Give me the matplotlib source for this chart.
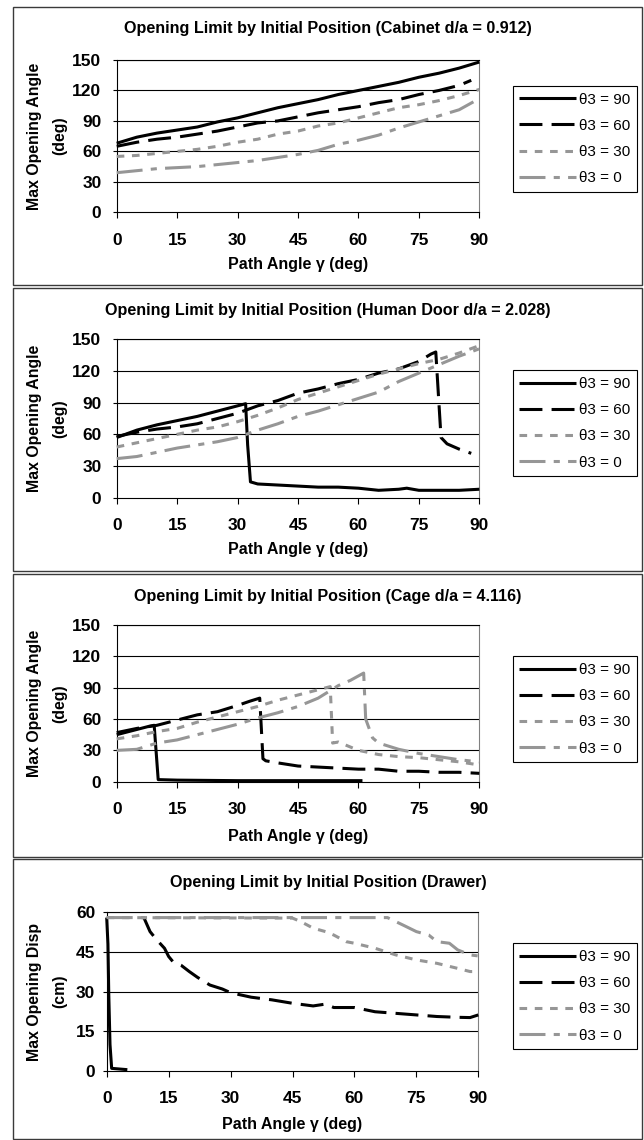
import matplotlib
matplotlib.use('Agg')
import matplotlib.pyplot as plt
from matplotlib.patches import Rectangle

plt.rcParams['font.family'] = ['Liberation Sans', 'DejaVu Sans']

# ---------------- data ----------------
labels = ['θ3 = 90', 'θ3 = 60', 'θ3 = 30', 'θ3 = 0']
x_ticks = [0, 15, 30, 45, 60, 75, 90]
angle_ticks = [0, 30, 60, 90, 120, 150]
disp_ticks = [0, 15, 30, 45, 60]

titles = ['Opening Limit by Initial Position (Cabinet d/a = 0.912)',
          'Opening Limit by Initial Position (Human Door d/a = 2.028)',
          'Opening Limit by Initial Position (Cage d/a = 4.116)',
          'Opening Limit by Initial Position (Drawer)']
ylabels = [('Max Opening Angle', '(deg)')] * 3 + [('Max Opening Disp', '(cm)')]
xlabel = 'Path Angle γ (deg)'

# Panel 1 : Cabinet
cab_x = [0, 5, 10, 15, 20, 25, 30, 35, 40, 45, 50, 55, 60, 65, 70, 75, 80, 85, 90]
cab_t90 = [68, 74, 78, 81, 84, 89, 93, 98, 103, 107, 111, 116, 120, 124, 128, 133, 137, 142, 148]
cab_x60 = [0, 5, 10, 15, 20, 25, 30, 35, 40, 45, 50, 55, 60, 65, 70, 75, 80, 85, 88]
cab_t60 = [65, 69, 72, 74, 77, 80, 84, 88, 90, 94, 98, 101, 104, 108, 111, 116, 120, 125, 130]
cab_t30 = [55, 56, 58, 60, 62, 65, 69, 72, 77, 80, 85, 88, 93, 98, 103, 106, 110, 115, 121]
cab_t0 = [39, 41, 43, 44, 45, 47, 49, 51, 54, 57, 61, 67, 71, 76, 83, 89, 95, 101, 112]

# Panel 2 : Human door
door_x90 = [0, 5, 10, 15, 20, 25, 30, 32, 32.5, 33.2, 35, 40, 45, 50, 55, 60, 65, 70, 72, 75, 80, 85, 90]
door_t90 = [57, 64, 69, 73, 77, 82, 87, 89, 50, 15, 13, 12, 11, 10, 10, 9, 7, 8, 9, 7, 7, 7, 8]
door_x60 = [0, 5, 10, 15, 20, 25, 30, 35, 40, 45, 50, 55, 60, 65, 70, 75, 78, 79.2, 80.5, 82, 85, 88]
door_t60 = [58, 62, 65, 67, 70, 75, 80, 87, 92, 99, 103, 108, 112, 118, 122, 129, 136, 138, 57, 51, 46, 42]
door_x = [0, 5, 10, 15, 20, 25, 30, 35, 40, 45, 50, 55, 60, 65, 70, 75, 80, 85, 90]
door_t30 = [48, 52, 56, 60, 64, 67, 72, 78, 85, 93, 99, 105, 111, 117, 122, 127, 131, 137, 144]
door_t0 = [37, 39, 43, 47, 50, 53, 57, 64, 70, 77, 82, 88, 94, 100, 110, 118, 126, 134, 141]

# Panel 3 : Cage
cage_x90 = [0, 3, 5, 8, 9.3, 10.3, 15, 30, 45, 61]
cage_t90 = [45, 48, 50, 53, 54, 2, 1.5, 1, 1, 1]
cage_x60 = [0, 5, 10, 12, 15, 20, 25, 30, 33, 35.5, 36.3, 37, 40, 45, 50, 55, 60, 65, 70, 75, 80, 85, 90]
cage_t60 = [47, 51, 54, 56, 59, 64, 67, 73, 77, 80, 22, 20, 18, 15, 14, 13, 12, 12, 10, 10, 9, 9, 8]
cage_x30 = [0, 5, 10, 15, 20, 25, 30, 35, 40, 45, 50, 53, 53.6, 55, 60, 65, 70, 75, 80, 85, 90]
cage_t30 = [41, 44, 48, 51, 57, 62, 67, 72, 78, 83, 88, 91, 37, 38, 30, 26, 24, 23, 21, 19, 16]
cage_x0 = [0, 5, 10, 15, 20, 25, 30, 35, 40, 45, 50, 55, 58, 61.3, 61.8, 63.5, 65, 70, 75, 80, 85, 90]
cage_t0 = [30, 31, 37, 40, 45, 50, 55, 61, 66, 72, 80, 92, 97, 104, 60, 42, 37, 31, 27, 24, 21, 19]

# Panel 4 : Drawer
drw_x90 = [0, 0.3, 0.5, 0.8, 1.2, 5]
drw_t90 = [58, 48, 29, 10, 1, 0.5]
drw_x60 = [8.5, 9, 10.5, 12, 14, 15, 16, 18, 20, 22, 25, 28, 30, 35, 40, 45, 50, 53, 55, 60, 65, 70, 75, 80, 85, 88, 90]
drw_t60 = [58, 58, 52.7, 49.8, 46.4, 43.3, 41.4, 40, 37.6, 35.4, 32.5, 31, 29.6, 27.9, 26.9, 25.6, 24.6, 25.3,
           24, 24, 22.4, 21.8, 21.2, 20.6, 20.3, 20.2, 21.2]
drw_x30 = [0, 45, 47, 50, 53, 55, 58, 60, 65, 70, 75, 80, 85, 88, 90]
drw_t30 = [58, 57.8, 56.5, 54, 52.7, 51.4, 48.9, 48.3, 46.4, 43.9, 42, 40.7, 38.8, 37.6, 37.6]
drw_x0 = [0, 68, 70, 72, 75, 78, 80, 83, 85, 88, 90]
drw_t0 = [58, 58, 56.5, 55, 52.7, 51.4, 48.9, 48.3, 45.8, 43.9, 43.5]

series = [
    [(cab_x, cab_t90), (cab_x60, cab_t60), (cab_x, cab_t30), (cab_x, cab_t0)],
    [(door_x90, door_t90), (door_x60, door_t60), (door_x, door_t30), (door_x, door_t0)],
    [(cage_x90, cage_t90), (cage_x60, cage_t60), (cage_x30, cage_t30), (cage_x0, cage_t0)],
    [(drw_x90, drw_t90), (drw_x60, drw_t60), (drw_x30, drw_t30), (drw_x0, drw_t0)],
]
yticks_list = [angle_ticks, angle_ticks, angle_ticks, disp_ticks]

# ---------------- styles / layout ----------------
W, H = 644, 1140
GRAY = '#969696'
LW = 2.2
styles = [
    dict(color='black', linestyle='-'),
    dict(color='black', dashes=(7.5, 3)),
    dict(color=GRAY, dashes=(2.5, 2.5)),
    dict(color=GRAY, dashes=(8.5, 2.7, 2, 2.7)),
]

# pixel layout: box(top,bottom), axes(left,right,top,bottom), title y, xlabel y, legend top, ytick pad
layout = [
    dict(box=(6.7, 285), ax=(116.7, 479.3, 60, 212.3), title=29, xl=264, leg=85.7, ypad=8.0),
    dict(box=(288.3, 571), ax=(116.7, 479.3, 339.3, 497.7), title=310, xl=550, leg=370, ypad=8.0),
    dict(box=(573.5, 857), ax=(116.7, 479.3, 625, 781.7), title=597, xl=837, leg=656, ypad=8.0),
    dict(box=(859.5, 1138.5), ax=(106.7, 478.3, 912.3, 1071), title=883, xl=1125, leg=943, ypad=5.3),
]

fig = plt.figure(figsize=(W / 100, H / 100), dpi=100)


def fx(p):
    return p / W


def fy(p):
    return 1 - p / H


for i in range(4):
    L = layout[i]
    bt, bb = L['box']
    fig.add_artist(Rectangle((fx(12.7), fy(bb)), fx(642) - fx(12.7), fy(bt) - fy(bb),
                             transform=fig.transFigure, fill=False, edgecolor='#3a3a3a',
                             linewidth=1.0))
    l, r, t, b = L['ax']
    ax = fig.add_axes([fx(l), fy(b), fx(r) - fx(l), fy(t) - fy(b)])
    yt = yticks_list[i]
    ax.set_xlim(0, 90)
    ax.set_ylim(yt[0], yt[-1])
    ax.set_xticks(x_ticks)
    ax.set_yticks(yt)
    ax.set_xticklabels([str(v) for v in x_ticks], fontsize=12.5, fontweight='bold')
    ax.set_yticklabels([str(v) for v in yt], fontsize=12.5, fontweight='bold')
    ax.tick_params(axis='x', direction='out', length=4.2, width=0.8, pad=10.5)
    ax.tick_params(axis='y', direction='out', length=3.0, width=0.8, pad=L['ypad'])
    for v in yt[1:]:
        ax.axhline(v, color='black', linewidth=0.8, zorder=1)
    ax.spines['left'].set_linewidth(0.8)
    ax.spines['bottom'].set_linewidth(0.8)
    ax.spines['top'].set_linewidth(0.8)
    ax.spines['right'].set_color('#808080')
    ax.spines['right'].set_linewidth(0.8)
    handles = []
    for (xs, ys), st, lab in zip(series[i], styles, labels):
        ln, = ax.plot(xs, ys, linewidth=LW, label=lab, clip_on=False, zorder=3,
                      solid_capstyle='butt', dash_capstyle='butt', **st)
        handles.append(ln)
    ax.set_axisbelow(True)

    fig.text(fx(328), fy(L['title']), titles[i], ha='center', va='center',
             fontsize=11.6, fontweight='bold')
    fig.text(fx((l + r) / 2), fy(L['xl']), xlabel, ha='center', va='center',
             fontsize=11.5, fontweight='bold')
    yc = fy((t + b) / 2)
    fig.text(fx(35), yc, ylabels[i][0], rotation=90, ha='center', va='center',
             fontsize=11.4, fontweight='bold')
    fig.text(fx(60), yc, ylabels[i][1], rotation=90, ha='center', va='center',
             fontsize=11.4, fontweight='bold')

    leg = fig.legend(handles=handles, labels=labels, loc='upper left',
                     bbox_to_anchor=(fx(512.5), fy(L['leg'])), bbox_transform=fig.transFigure,
                     frameon=True, fancybox=False, edgecolor='black', framealpha=1,
                     fontsize=11, handlelength=3.7, handletextpad=0.2, labelspacing=0.8,
                     borderpad=0.45, borderaxespad=0)
    leg.get_frame().set_linewidth(0.8)

fig.savefig('out.png', dpi=100)
